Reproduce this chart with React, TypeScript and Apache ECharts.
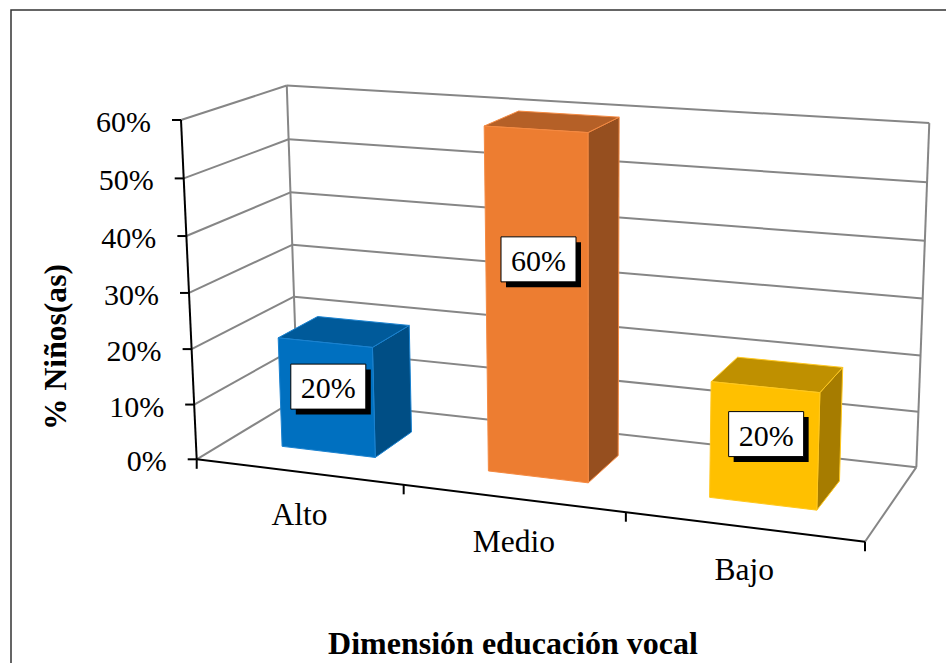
import React, { useEffect, useRef } from "react";
import * as echarts from "echarts";

const WIDTH = 946;
const HEIGHT = 663;

const categories = ["Alto", "Medio", "Bajo"];
const porcentajes = [0.2, 0.6, 0.2];
const yTicks = [0, 0.1, 0.2, 0.3, 0.4, 0.5, 0.6];
const faceColors = ["#0070C0", "#ED7D31", "#FFC000"];
const topColors = ["#005A9A", "#B56027", "#BF9000"];
const sideColors = ["#004E85", "#964F1F", "#A67C00"];
const edgeColors = ["#1A82D0", "#F58A42", "#FFC81E"];

const FONT = "'Liberation Serif', 'Times New Roman', serif";
const GRID = "#868686";

// Projective frame of the 3D box (u along categories, v depth, w height)
type P = [number, number];
const D: P = [196.7, 459.3];
const E100: P = [865, 541.7];
const E010: P = [297.5, 398.5];
const E001: P = [181, 120];
const C110: P = [915, 465];
const C011: P = [287.3, 82];
const C111: P = [929, 123.3];

function solve3(m: number[][], r: number[]) {
  const a = m.map((row, i) => [...row, r[i]]);
  for (let i = 0; i < 3; i++) {
    let piv = i;
    for (let k = i + 1; k < 3; k++) if (Math.abs(a[k][i]) > Math.abs(a[piv][i])) piv = k;
    [a[i], a[piv]] = [a[piv], a[i]];
    for (let k = 0; k < 3; k++) {
      if (k === i) continue;
      const f = a[k][i] / a[i][i];
      for (let j = i; j < 4; j++) a[k][j] -= f * a[i][j];
    }
  }
  return [a[0][3] / a[0][0], a[1][3] / a[1][1], a[2][3] / a[2][2]];
}

function fitDenominator() {
  const basis = [E100, E010, E001];
  const samples: [number[], P][] = [
    [[1, 1, 0], C110],
    [[0, 1, 1], C011],
    [[1, 1, 1], C111],
  ];
  const ata = [0, 1, 2].map(() => [0, 0, 0]);
  const atb = [0, 0, 0];
  for (const [t, p] of samples) {
    for (const d of [0, 1]) {
      const row = t.map((ti, i) => ti * (basis[i][d] - p[d]));
      let rhs = p[d] - D[d];
      t.forEach((ti, i) => (rhs -= ti * (basis[i][d] - D[d])));
      for (let i = 0; i < 3; i++) {
        atb[i] += row[i] * rhs;
        for (let j = 0; j < 3; j++) ata[i][j] += row[i] * row[j];
      }
    }
  }
  return solve3(ata, atb);
}
const den = fitDenominator();

function project(u: number, v: number, w: number): P {
  const t = [u, v, w];
  const basis = [E100, E010, E001];
  const q = den[0] * u + den[1] * v + den[2] * w + 1;
  const out: number[] = [0, 0];
  for (const d of [0, 1]) {
    let n = D[d];
    t.forEach((ti, i) => (n += ti * (basis[i][d] * (den[i] + 1) - D[d])));
    out[d] = n / q;
  }
  return [out[0], out[1]];
}

const BAR_FRACTION = 0.46;
const V_FRONT = 0.3;
const V_BACK = 0.7;

const toU = (x: number) => x / WIDTH;
const toW = (y: number) => 1 - y / HEIGHT;

const line = (a: P, b: P, stroke: string, lineWidth = 2) => ({
  type: "line",
  shape: { x1: a[0], y1: a[1], x2: b[0], y2: b[1] },
  style: { stroke, lineWidth },
  silent: true,
});

const renderWalls = (params: any, api: any) => {
  const w = toW(api.coord([0, api.value(0)])[1]);
  const frontPt = project(0, 0, w);
  const backLeft = project(0, 1, w);
  const backRight = project(1, 1, w);
  const children: any[] = [
    line(frontPt, backLeft, GRID),
    line(backLeft, backRight, GRID),
  ];
  if (params.dataIndex === 0) {
    children.push(
      line(project(0, 1, 0), project(0, 1, 1), GRID),
      line(project(1, 1, 0), project(1, 1, 1), GRID),
      line(project(1, 0, 0), project(1, 1, 0), GRID),
    );
  }
  children.push(line(frontPt, [frontPt[0] - 9, frontPt[1]], "#000"));
  children.push({
    type: "text",
    x: frontPt[0] - 30,
    y: frontPt[1] + 1.5,
    style: {
      text: `${Math.round(api.value(0) * 100)}%`,
      font: `30px ${FONT}`,
      fill: "#000",
      align: "right",
      verticalAlign: "middle",
    },
    silent: true,
  });
  return { type: "group", children };
};

const renderAxisFront = (params: any, api: any) => {
  const idx = api.value(0);
  const band = api.size([1, 0])[0];
  const cx = api.coord([idx, 0])[0];
  const u = toU(cx);
  const base = project(u, 0, 0);
  const edge = project(toU(cx + band / 2), 0, 0);
  const children: any[] = [
    line(edge, [edge[0], edge[1] + 9.5], "#000"),
    {
      type: "text",
      x: base[0] + 1,
      y: base[1] + 43,
      style: {
        text: categories[idx],
        font: `31.5px ${FONT}`,
        fill: "#000",
        align: "center",
        verticalAlign: "middle",
      },
      silent: true,
    },
  ];
  if (params.dataIndex === 0) {
    const start = project(0, 0, 0);
    children.push(
      line(start, [start[0], start[1] + 9.5], "#000"),
      line(project(0, 0, 0), project(1, 0, 0), "#000"),
      line(project(0, 0, 0), project(0, 0, 1), "#000"),
    );
  }
  return { type: "group", children };
};

const renderBar = (params: any, api: any) => {
  const idx = api.value(0);
  const top = api.coord([idx, api.value(1)]);
  const band = api.size([1, 0])[0];
  const half = (band * BAR_FRACTION) / 2;
  const u0 = toU(top[0] - half);
  const u1 = toU(top[0] + half);
  const w = toW(top[1]);
  const edge = edgeColors[idx];
  const poly = (pts: P[], fill: string) => ({
    type: "polygon",
    shape: { points: pts },
    style: { fill, stroke: edge, lineWidth: 1 },
    silent: true,
  });
  return {
    type: "group",
    children: [
      poly(
        [project(u1, V_FRONT, 0), project(u1, V_BACK, 0), project(u1, V_BACK, w), project(u1, V_FRONT, w)],
        sideColors[idx],
      ),
      poly(
        [project(u0, V_FRONT, w), project(u1, V_FRONT, w), project(u1, V_BACK, w), project(u0, V_BACK, w)],
        topColors[idx],
      ),
      poly(
        [project(u0, V_FRONT, 0), project(u1, V_FRONT, 0), project(u1, V_FRONT, w), project(u0, V_FRONT, w)],
        faceColors[idx],
      ),
    ],
  };
};

const renderLabel = (_params: any, api: any) => {
  const idx = api.value(0);
  const top = api.coord([idx, api.value(1)]);
  const w = toW(top[1]);
  const [px, cy] = project(toU(top[0]), V_FRONT, w * 0.6525 - 0.0175);
  const cx = px + 2;
  const bw = 75;
  const bh = 45;
  return {
    type: "group",
    children: [
      {
        type: "rect",
        shape: { x: cx - bw / 2 + 5, y: cy - bh / 2 + 5.5, width: bw, height: bh },
        style: { fill: "#000" },
        silent: true,
      },
      {
        type: "rect",
        shape: { x: cx - bw / 2, y: cy - bh / 2, width: bw, height: bh },
        style: { fill: "#fff", stroke: "#000", lineWidth: 1 },
        silent: true,
      },
      {
        type: "text",
        x: cx,
        y: cy + 1,
        style: {
          text: `${Math.round(api.value(1) * 100)}%`,
          font: `30px ${FONT}`,
          fill: "#000",
          align: "center",
          verticalAlign: "middle",
        },
        silent: true,
      },
    ],
  };
};

export default function App() {
  const ref = useRef<HTMLDivElement>(null);
  useEffect(() => {
    document.body.style.margin = "0";
    const chart = echarts.init(ref.current!, undefined, { renderer: "svg" });
    const barData = categories.map((_, i) => [i, porcentajes[i]]);
    chart.setOption({
      animation: false,
      backgroundColor: "#fff",
      grid: { left: 0, right: 0, top: 0, bottom: 0 },
      xAxis: { type: "category", data: categories, show: false },
      yAxis: { type: "value", min: 0, max: 0.6, interval: 0.1, show: false },
      tooltip: { show: false },
      graphic: [
        {
          type: "rect",
          shape: { x: 11, y: 10, width: 940, height: 660 },
          style: { fill: "none", stroke: "#333", lineWidth: 1.5 },
          silent: true,
          z: 0,
        },
        {
          type: "text",
          x: 513,
          y: 643,
          style: {
            text: "Dimensión educación vocal",
            font: `bold 32px ${FONT}`,
            fill: "#000",
            align: "center",
            verticalAlign: "middle",
          },
          silent: true,
        },
        {
          type: "text",
          x: 55,
          y: 347,
          rotation: Math.PI / 2,
          style: {
            text: "% Niños(as)",
            font: `bold 31.6px ${FONT}`,
            fill: "#000",
            align: "center",
            verticalAlign: "middle",
          },
          silent: true,
        },
      ],
      series: [
        {
          type: "custom",
          coordinateSystem: "cartesian2d",
          renderItem: renderWalls,
          data: yTicks.map((t) => [t]),
          encode: { y: 0 },
          silent: true,
          z: 1,
        },
        {
          type: "custom",
          coordinateSystem: "cartesian2d",
          renderItem: renderAxisFront,
          data: categories.map((_, i) => [i]),
          encode: { x: 0 },
          silent: true,
          z: 2,
        },
        {
          type: "custom",
          coordinateSystem: "cartesian2d",
          renderItem: renderBar,
          data: barData,
          encode: { x: 0, y: 1 },
          silent: true,
          z: 3,
        },
        {
          type: "custom",
          coordinateSystem: "cartesian2d",
          renderItem: renderLabel,
          data: barData,
          encode: { x: 0, y: 1 },
          silent: true,
          z: 4,
        },
      ],
    });
    return () => chart.dispose();
  }, []);
  return <div ref={ref} style={{ width: WIDTH, height: HEIGHT, overflow: "hidden" }} />;
}
